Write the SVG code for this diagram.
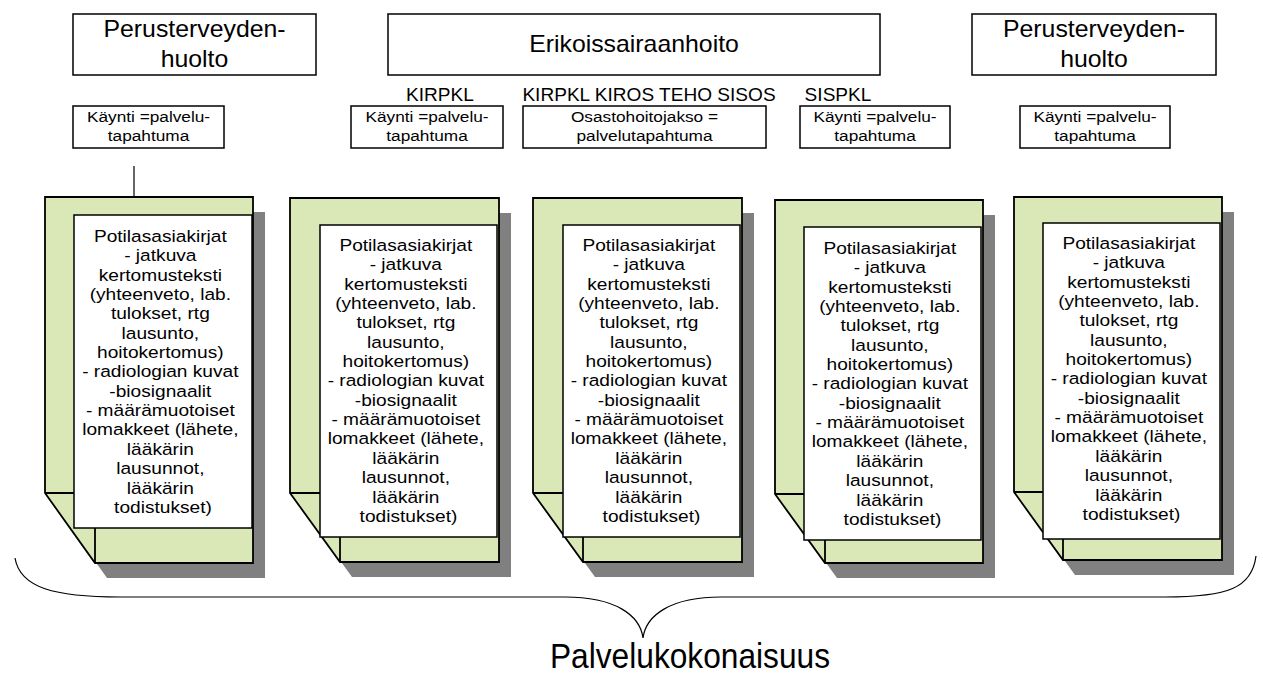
<svg xmlns="http://www.w3.org/2000/svg" width="1263" height="675" viewBox="0 0 1263 675">
  <style>
    text { font-family: "Liberation Sans", Arial, sans-serif; fill: #000; text-anchor: middle; }
    .box { fill: #fff; stroke: #000; stroke-width: 1.5; }
    .sheet { fill: #d9e8b6; stroke: #000; stroke-width: 1.8; stroke-linejoin: miter; }
    .fold { fill: none; stroke: #000; stroke-width: 1.8; }
    .shadow { fill: #808080; stroke: none; }
    .page { fill: #fff; stroke: #000; stroke-width: 1.5; }
    .head { font-size: 23px; }
    .unit { font-size: 17.5px; }
    .small { font-size: 15px; }
    .body { font-size: 16.5px; }
    .total { font-size: 35px; }
    .wire { fill: none; stroke: #000; stroke-width: 1.2; }
  </style>

  <!-- top level organisation headers -->
  <g id="hdr-perus-left">
    <rect class="box" x="73" y="14" width="243" height="61"/>
    <text class="head" transform="translate(194.5 0) scale(1.08 1)"><tspan x="0" y="37">Perusterveyden-</tspan><tspan x="0" y="67">huolto</tspan></text>
  </g>
  <g id="hdr-erikois">
    <rect class="box" x="388" y="14" width="492" height="61"/>
    <text class="head" transform="translate(634 0) scale(1.08 1)" x="0" y="52.5">Erikoissairaanhoito</text>
  </g>
  <g id="hdr-perus-right">
    <rect class="box" x="972" y="14" width="244" height="61"/>
    <text class="head" transform="translate(1094 0) scale(1.08 1)"><tspan x="0" y="37">Perusterveyden-</tspan><tspan x="0" y="67">huolto</tspan></text>
  </g>

  <!-- unit labels -->
  <g id="lbl-kirpkl">
    <text class="unit" transform="translate(440 0) scale(1.09 1)" x="0" y="101">KIRPKL</text>
  </g>
  <g id="lbl-osastot">
    <text class="unit" transform="translate(649 0) scale(1.09 1)" x="0" y="101">KIRPKL KIROS TEHO SISOS</text>
  </g>
  <g id="lbl-sispkl">
    <text class="unit" transform="translate(838 0) scale(1.09 1)" x="0" y="101">SISPKL</text>
  </g>

  <!-- service event boxes -->
  <g id="ev-1">
    <rect class="box" x="73" y="106" width="151" height="42"/>
    <text class="small" transform="translate(148.5 0) scale(1.15 1)"><tspan x="0" y="122">Käynti =palvelu-</tspan><tspan x="0" y="141">tapahtuma</tspan></text>
  </g>
  <g id="ev-2">
    <rect class="box" x="351" y="106" width="152" height="42"/>
    <text class="small" transform="translate(427 0) scale(1.15 1)"><tspan x="0" y="122">Käynti =palvelu-</tspan><tspan x="0" y="141">tapahtuma</tspan></text>
  </g>
  <g id="ev-3">
    <rect class="box" x="523" y="106" width="243" height="42"/>
    <text class="small" transform="translate(644.5 0) scale(1.15 1)"><tspan x="0" y="122">Osastohoitojakso =</tspan><tspan x="0" y="141">palvelutapahtuma</tspan></text>
  </g>
  <g id="ev-4">
    <rect class="box" x="800" y="106" width="150" height="42"/>
    <text class="small" transform="translate(875 0) scale(1.15 1)"><tspan x="0" y="122">Käynti =palvelu-</tspan><tspan x="0" y="141">tapahtuma</tspan></text>
  </g>
  <g id="ev-5">
    <rect class="box" x="1020" y="106" width="150" height="42"/>
    <text class="small" transform="translate(1095 0) scale(1.15 1)"><tspan x="0" y="122">Käynti =palvelu-</tspan><tspan x="0" y="141">tapahtuma</tspan></text>
  </g>

  <!-- patient record documents -->
  <g id="doc-1">
    <polygon class="shadow" points="57,212 265,212 265,578 107,578 57,508"/>
    <polygon class="sheet" points="45,197 253,197 253,563 95,563 45,493"/>
    <polyline class="fold" points="45,493 95,493 95,563"/>
    <rect class="page" x="74" y="215" width="178" height="313"/>
    <text class="body" transform="translate(163 242) scale(1.16 1)">
      <tspan x="0" y="0">Potilasasiakirjat</tspan>
      <tspan x="0" dy="19.35">- jatkuva</tspan>
      <tspan x="0" dy="19.35">kertomusteksti</tspan>
      <tspan x="0" dy="19.35">(yhteenveto, lab.</tspan>
      <tspan x="0" dy="19.35">tulokset, rtg</tspan>
      <tspan x="0" dy="19.35">lausunto,</tspan>
      <tspan x="0" dy="19.35">hoitokertomus)</tspan>
      <tspan x="0" dy="19.35">- radiologian kuvat</tspan>
      <tspan x="0" dy="19.35">-biosignaalit</tspan>
      <tspan x="0" dy="19.35">- määrämuotoiset</tspan>
      <tspan x="0" dy="19.35">lomakkeet (lähete,</tspan>
      <tspan x="0" dy="19.35">lääkärin</tspan>
      <tspan x="0" dy="19.35">lausunnot,</tspan>
      <tspan x="0" dy="19.35">lääkärin</tspan>
      <tspan x="0" dy="19.35">todistukset)</tspan>
    </text>
  </g>
  <g id="doc-2">
    <polygon class="shadow" points="302,213 511,213 511,577 352,577 302,508"/>
    <polygon class="sheet" points="290,198 499,198 499,562 340,562 290,493"/>
    <polyline class="fold" points="290,493 340,493 340,562"/>
    <rect class="page" x="320" y="225" width="177" height="312"/>
    <text class="body" transform="translate(408.5 251) scale(1.16 1)">
      <tspan x="0" y="0">Potilasasiakirjat</tspan>
      <tspan x="0" dy="19.35">- jatkuva</tspan>
      <tspan x="0" dy="19.35">kertomusteksti</tspan>
      <tspan x="0" dy="19.35">(yhteenveto, lab.</tspan>
      <tspan x="0" dy="19.35">tulokset, rtg</tspan>
      <tspan x="0" dy="19.35">lausunto,</tspan>
      <tspan x="0" dy="19.35">hoitokertomus)</tspan>
      <tspan x="0" dy="19.35">- radiologian kuvat</tspan>
      <tspan x="0" dy="19.35">-biosignaalit</tspan>
      <tspan x="0" dy="19.35">- määrämuotoiset</tspan>
      <tspan x="0" dy="19.35">lomakkeet (lähete,</tspan>
      <tspan x="0" dy="19.35">lääkärin</tspan>
      <tspan x="0" dy="19.35">lausunnot,</tspan>
      <tspan x="0" dy="19.35">lääkärin</tspan>
      <tspan x="0" dy="19.35">todistukset)</tspan>
    </text>
  </g>
  <g id="doc-3">
    <polygon class="shadow" points="545,213 754,213 754,577 595,577 545,508"/>
    <polygon class="sheet" points="533,198 742,198 742,562 583,562 533,493"/>
    <polyline class="fold" points="533,493 583,493 583,562"/>
    <rect class="page" x="563" y="225" width="177" height="312"/>
    <text class="body" transform="translate(651.5 251) scale(1.16 1)">
      <tspan x="0" y="0">Potilasasiakirjat</tspan>
      <tspan x="0" dy="19.35">- jatkuva</tspan>
      <tspan x="0" dy="19.35">kertomusteksti</tspan>
      <tspan x="0" dy="19.35">(yhteenveto, lab.</tspan>
      <tspan x="0" dy="19.35">tulokset, rtg</tspan>
      <tspan x="0" dy="19.35">lausunto,</tspan>
      <tspan x="0" dy="19.35">hoitokertomus)</tspan>
      <tspan x="0" dy="19.35">- radiologian kuvat</tspan>
      <tspan x="0" dy="19.35">-biosignaalit</tspan>
      <tspan x="0" dy="19.35">- määrämuotoiset</tspan>
      <tspan x="0" dy="19.35">lomakkeet (lähete,</tspan>
      <tspan x="0" dy="19.35">lääkärin</tspan>
      <tspan x="0" dy="19.35">lausunnot,</tspan>
      <tspan x="0" dy="19.35">lääkärin</tspan>
      <tspan x="0" dy="19.35">todistukset)</tspan>
    </text>
  </g>
  <g id="doc-4">
    <polygon class="shadow" points="787,215 995,215 995,578 837,578 787,509"/>
    <polygon class="sheet" points="775,200 983,200 983,563 825,563 775,494"/>
    <polyline class="fold" points="775,494 825,494 825,563"/>
    <rect class="page" x="804" y="227" width="177" height="313"/>
    <text class="body" transform="translate(892.5 254) scale(1.16 1)">
      <tspan x="0" y="0">Potilasasiakirjat</tspan>
      <tspan x="0" dy="19.35">- jatkuva</tspan>
      <tspan x="0" dy="19.35">kertomusteksti</tspan>
      <tspan x="0" dy="19.35">(yhteenveto, lab.</tspan>
      <tspan x="0" dy="19.35">tulokset, rtg</tspan>
      <tspan x="0" dy="19.35">lausunto,</tspan>
      <tspan x="0" dy="19.35">hoitokertomus)</tspan>
      <tspan x="0" dy="19.35">- radiologian kuvat</tspan>
      <tspan x="0" dy="19.35">-biosignaalit</tspan>
      <tspan x="0" dy="19.35">- määrämuotoiset</tspan>
      <tspan x="0" dy="19.35">lomakkeet (lähete,</tspan>
      <tspan x="0" dy="19.35">lääkärin</tspan>
      <tspan x="0" dy="19.35">lausunnot,</tspan>
      <tspan x="0" dy="19.35">lääkärin</tspan>
      <tspan x="0" dy="19.35">todistukset)</tspan>
    </text>
  </g>
  <g id="doc-5">
    <polygon class="shadow" points="1026,212 1234,212 1234,575 1075,575 1026,507"/>
    <polygon class="sheet" points="1014,197 1222,197 1222,560 1063,560 1014,492"/>
    <polyline class="fold" points="1014,492 1063,492 1063,560"/>
    <rect class="page" x="1043" y="223" width="177" height="316"/>
    <text class="body" transform="translate(1131.5 249) scale(1.16 1)">
      <tspan x="0" y="0">Potilasasiakirjat</tspan>
      <tspan x="0" dy="19.35">- jatkuva</tspan>
      <tspan x="0" dy="19.35">kertomusteksti</tspan>
      <tspan x="0" dy="19.35">(yhteenveto, lab.</tspan>
      <tspan x="0" dy="19.35">tulokset, rtg</tspan>
      <tspan x="0" dy="19.35">lausunto,</tspan>
      <tspan x="0" dy="19.35">hoitokertomus)</tspan>
      <tspan x="0" dy="19.35">- radiologian kuvat</tspan>
      <tspan x="0" dy="19.35">-biosignaalit</tspan>
      <tspan x="0" dy="19.35">- määrämuotoiset</tspan>
      <tspan x="0" dy="19.35">lomakkeet (lähete,</tspan>
      <tspan x="0" dy="19.35">lääkärin</tspan>
      <tspan x="0" dy="19.35">lausunnot,</tspan>
      <tspan x="0" dy="19.35">lääkärin</tspan>
      <tspan x="0" dy="19.35">todistukset)</tspan>
    </text>
  </g>

  <!-- connectors: event line and the grouping brace -->
  <g id="connectors">
    <line class="wire" x1="134" y1="166" x2="134" y2="197"/>
    <path class="wire" d="M 15,558 C 20,588 55,597 120,597 L 565,597 C 615,597 640,615 643,638 C 646,615 671,597 721,597 L 1165,597 C 1228,597 1252,588 1256,556"/>
  </g>

  <g id="total">
    <text class="total" transform="translate(690 0) scale(0.906 1)" x="0" y="668">Palvelukokonaisuus</text>
  </g>
</svg>
